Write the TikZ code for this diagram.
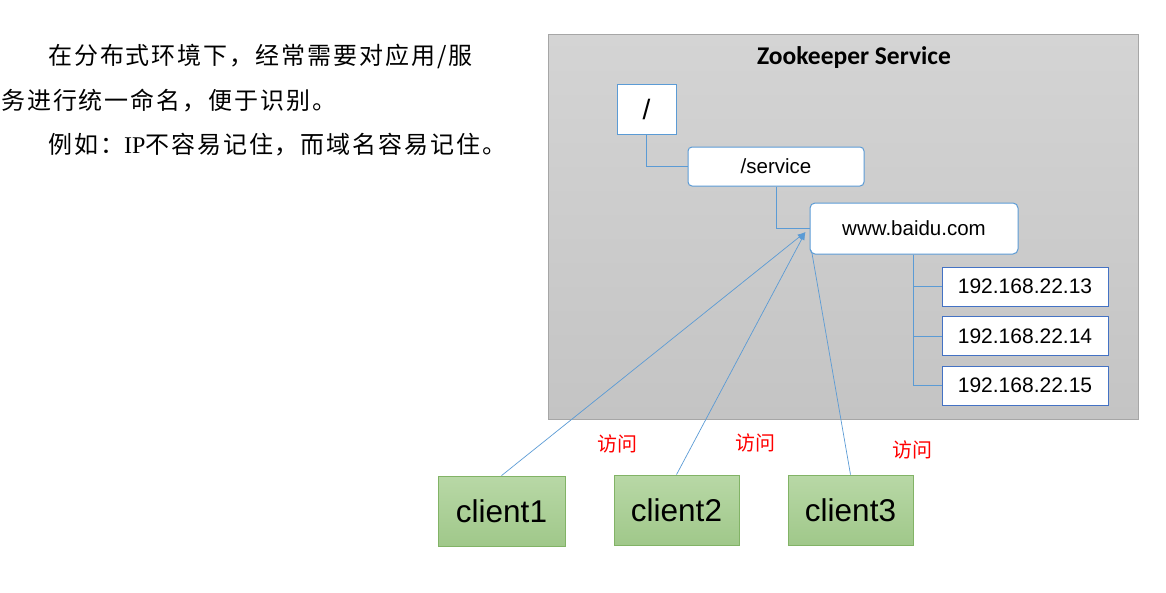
\documentclass[tikz,border=0pt]{standalone}
\usepackage{fontspec}
\setmainfont{Liberation Sans}
\newfontfamily\cjk[LetterSpace=8]{Noto Sans CJK SC}
\newfontfamily\cjkplain{Noto Sans CJK SC}
\newfontfamily\titlefont{Carlito}
\newfontfamily\serifip{Liberation Serif}
\usetikzlibrary{arrows.meta}
\definecolor{lineblue}{HTML}{5B9BD5}
\definecolor{ipblue}{HTML}{4472C4}
\definecolor{boxgray}{HTML}{A6A6A6}
\definecolor{greenborder}{HTML}{82B366}
\definecolor{greentop}{RGB}{184,216,166}
\definecolor{greenbot}{RGB}{160,200,138}
\definecolor{graytop}{RGB}{212,212,212}
\definecolor{graybot}{RGB}{196,196,196}
\tikzset{
  treebox/.style={draw=lineblue, line width=1pt, fill=white, inner sep=0pt},
  ipbox/.style={draw=ipblue, line width=1pt, fill=white, minimum width=166pt, minimum height=39pt, inner sep=0pt, font=\fontsize{21}{25}\selectfont},
  clientbox/.style={draw=greenborder, line width=0.8pt, top color=greentop, bottom color=greenbot, minimum width=125pt, minimum height=70pt, inner sep=0pt, font=\fontsize{31.5}{36}\selectfont},
  conn/.style={draw=lineblue, line width=0.7pt},
  visit/.style={text=red, font=\cjkplain\fontsize{20}{24}\selectfont},
  lefttext/.style={anchor=base west, inner sep=0pt, font=\cjk\fontsize{24}{28}\selectfont}
}
\begin{document}
\begin{tikzpicture}[x=1pt,y=-1pt]
\useasboundingbox (0,0) rectangle (1166,592);
% left text
\node[lefttext] (t1) at (48,64) {在分布式环境下，经常需要对应用/服};
\node[lefttext] (t2) at (1,109.5) {务进行统一命名，便于识别。};
\node[lefttext] (t3) at (48,153.5) {例如：{\serifip IP}不容易记住，而域名容易记住。};
% service box
\node[draw=boxgray, line width=0.8pt, top color=graytop, bottom color=graybot, minimum width=590pt, minimum height=385pt, inner sep=0pt] (zk) at (843,226.5) {};
\node[font=\titlefont\bfseries\fontsize{25.5}{30}\selectfont] (title) at (854,57.5) {Zookeeper Service};
% tree
\node[treebox, minimum width=59pt, minimum height=50pt, font=\fontsize{28}{32}\selectfont] (root) at (646.5,109) {/};
\node[treebox, rounded corners=4pt, minimum width=176pt, minimum height=39pt, font=\fontsize{20.5}{24}\selectfont] (service) at (776,166.5) {/service};
\node[treebox, rounded corners=5pt, minimum width=208pt, minimum height=51pt, font=\fontsize{20.5}{24}\selectfont] (www) at (914,228.5) {www.baidu.com};
\node[ipbox] (ip1) at (1025,286.5) {192.168.22.13};
\node[ipbox] (ip2) at (1025,336) {192.168.22.14};
\node[ipbox] (ip3) at (1025,385.5) {192.168.22.15};
\draw[conn] (root.south) |- (service.west);
\draw[conn] (service.south) |- (www.west);
\draw[conn] ([xshift=-1pt]www.south) |- (ip1.west);
\draw[conn] ([xshift=-1pt]www.south) |- (ip2.west);
\draw[conn] ([xshift=-1pt]www.south) |- (ip3.west);
% clients
\node[clientbox, minimum width=127pt] (c1) at (501.5,511) {client1};
\node[clientbox] (c2) at (676.5,510) {client2};
\node[clientbox] (c3) at (850.5,510) {client3};
\coordinate (tip) at ([xshift=-4pt,yshift=-3.5pt]www.west);
\coordinate (end3) at ([xshift=2pt,yshift=4pt]www.south west);
\draw[conn, -{Latex[length=8pt,width=6pt]}] (c1.north) -- (tip);
\draw[conn, -{Latex[length=8pt,width=6pt]}] (c2.north) -- (tip);
\draw[conn] (c3.north) -- (end3);
% labels
\node[visit] (v1) at (617,444) {访问};
\node[visit] (v2) at (755,443) {访问};
\node[visit] (v3) at (912,450) {访问};
\end{tikzpicture}
\end{document}
